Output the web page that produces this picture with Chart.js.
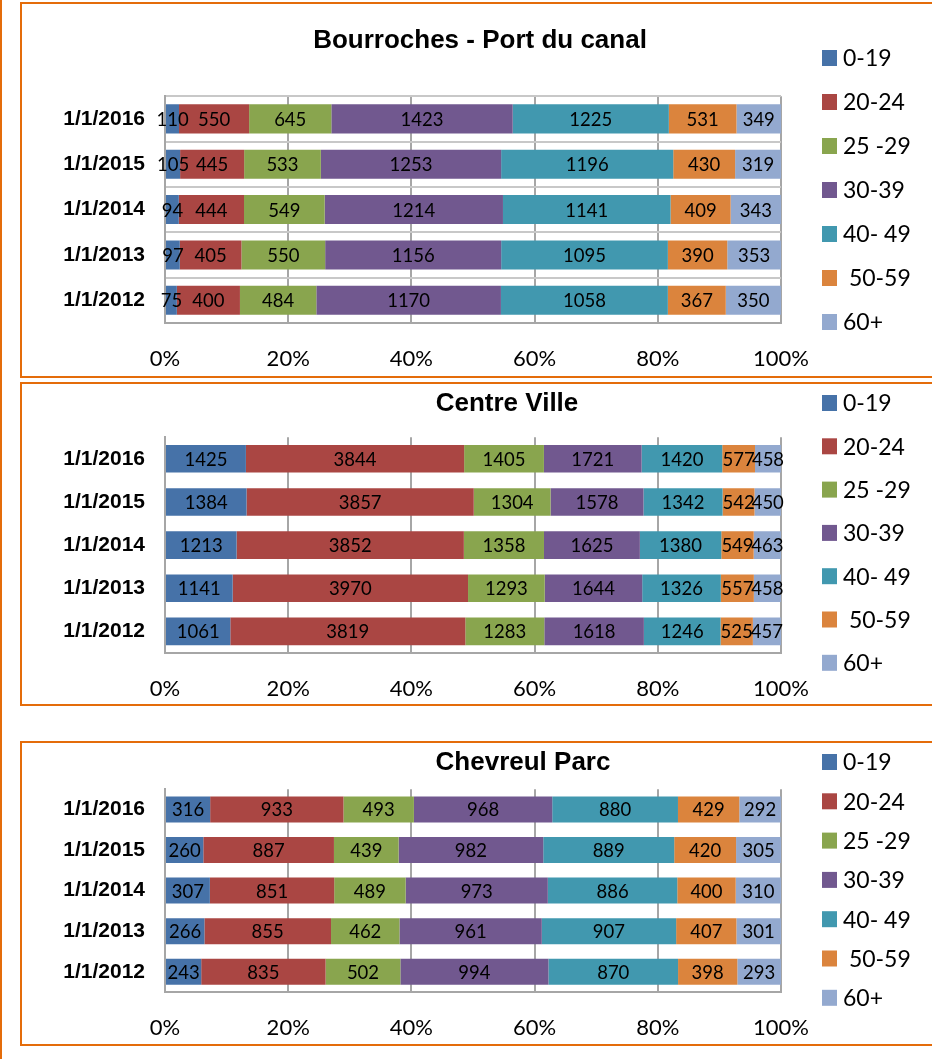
<!DOCTYPE html>
<html>
<head>
<meta charset="utf-8">
<script src="https://cdn.jsdelivr.net/npm/chart.js@4.4.1/dist/chart.umd.min.js"></script>
<style>
  html, body { margin: 0; padding: 0; background: #fff; overflow: hidden; }
  body { width: 932px; height: 1059px; position: relative; }
  .edge { position: absolute; left: 0; top: 0; width: 2px; height: 1059px; background: #E46C0A; }
  .box { position: absolute; left: 20px; width: 940px; border: 2px solid #E46C0A; background: #fff; }
  .box .inner { position: relative; width: 910px; height: 100%; }
</style>
</head>
<body>
<div class="edge"></div>
<div class="box" style="top:2px;height:372px"><div class="inner"><canvas id="chart1"></canvas></div></div>
<div class="box" style="top:382px;height:320px"><div class="inner"><canvas id="chart2"></canvas></div></div>
<div class="box" style="top:741px;height:301px"><div class="inner"><canvas id="chart3"></canvas></div></div>
<script>
/* ------------------------------------------------------------------ */
/*  Data                                                              */
/* ------------------------------------------------------------------ */

var categories = ['1/1/2016', '1/1/2015', '1/1/2014', '1/1/2013', '1/1/2012'];
var ageGroups = ['0-19', '20-24', '25 -29', '30-39', '40- 49', ' 50-59', '60+'];
var groupColors = ['#4672A8', '#AA4643', '#89A54E', '#71588F', '#4198AF', '#DB843D', '#93A9CF'];
var percentTicks = [0, 20, 40, 60, 80, 100];

// one row per date (same order as categories), one column per age group
var bourrochesCounts = [
  [110, 550, 645, 1423, 1225, 531, 349],
  [105, 445, 533, 1253, 1196, 430, 319],
  [94, 444, 549, 1214, 1141, 409, 343],
  [97, 405, 550, 1156, 1095, 390, 353],
  [75, 400, 484, 1170, 1058, 367, 350],
];

var centreVilleCounts = [
  [1425, 3844, 1405, 1721, 1420, 577, 458],
  [1384, 3857, 1304, 1578, 1342, 542, 450],
  [1213, 3852, 1358, 1625, 1380, 549, 463],
  [1141, 3970, 1293, 1644, 1326, 557, 458],
  [1061, 3819, 1283, 1618, 1246, 525, 457],
];

var chevreulCounts = [
  [316, 933, 493, 968, 880, 429, 292],
  [260, 887, 439, 982, 889, 420, 305],
  [307, 851, 489, 973, 886, 400, 310],
  [266, 855, 462, 961, 907, 407, 301],
  [243, 835, 502, 994, 870, 398, 293],
];

var GRID = '#A6A6A6';

/* ------------------------------------------------------------------ */
/*  Plugins                                                           */
/* ------------------------------------------------------------------ */

/** Raw count written in the middle of every segment. */
var segmentLabels = {
  id: 'segmentLabels',
  afterDatasetsDraw: function (chart) {
    var ctx = chart.ctx;
    ctx.save();
    ctx.font = '18.5px Lato';
    ctx.fillStyle = '#000';
    ctx.textAlign = 'center';
    ctx.textBaseline = 'middle';
    chart.data.datasets.forEach(function (ds, i) {
      chart.getDatasetMeta(i).data.forEach(function (bar, j) {
        var p = bar.getProps(['x', 'base', 'y'], true);
        ctx.fillText(String(ds.counts[j]), (p.x + p.base) / 2, p.y + 1);
      });
    });
    ctx.restore();
  }
};

/** Legend column on the right, Excel style. */
var sideLegend = {
  id: 'sideLegend',
  afterDraw: function (chart, args, opts) {
    var ctx = chart.ctx;
    ctx.save();
    ctx.font = '23px Lato';
    ctx.textAlign = 'left';
    ctx.textBaseline = 'middle';
    chart.data.datasets.forEach(function (ds, i) {
      var cy = opts.top + i * opts.gap;
      ctx.fillStyle = ds.backgroundColor;
      ctx.fillRect(opts.left, cy - 8, 15, 16);
      ctx.fillStyle = '#000';
      ctx.fillText(ds.label, opts.left + 21, cy + 1);
    });
    ctx.restore();
  }
};

/** Nudge the title sideways (it is not centred on the plot in the source). */
var titleShift = {
  id: 'titleShift',
  afterLayout: function (chart, args, opts) {
    if (chart.titleBlock) {
      chart.titleBlock.left += opts.dx;
      chart.titleBlock.right += opts.dx;
    }
  }
};

/* ------------------------------------------------------------------ */
/*  Chart building                                                    */
/* ------------------------------------------------------------------ */

function buildDatasets(counts) {
  var totals = counts.map(function (row) {
    return row.reduce(function (a, b) { return a + b; }, 0);
  });
  return ageGroups.map(function (group, g) {
    return {
      label: group,
      data: counts.map(function (row, r) { return row[g] / totals[r] * 100; }),
      counts: counts.map(function (row) { return row[g]; }),
      backgroundColor: groupColors[g],
      borderWidth: 0,
      barPercentage: 0.64,
      categoryPercentage: 1,
      xAxisID: 'x',
      yAxisID: 'y',
    };
  });
}

function makeChart(canvasId, titleText, counts, cfg) {
  return new Chart(document.getElementById(canvasId), {
    type: 'bar',
    data: { labels: categories, datasets: buildDatasets(counts) },
    options: {
      indexAxis: 'y',
      responsive: true,
      maintainAspectRatio: false,
      animation: false,
      layout: { padding: { left: 0, right: 151, top: 0, bottom: 0 } },
      scales: {
        x: {
          stacked: true,
          min: 0,
          max: 100,
          afterBuildTicks: function (s) {
            s.ticks = percentTicks.map(function (v) { return { value: v }; });
          },
          afterFit: function (s) { s.height = cfg.xHeight; },
          grid: { color: GRID, lineWidth: 2, drawTicks: false },
          border: { color: GRID, width: 2 },
          ticks: {
            padding: 23,
            color: '#000',
            font: { family: 'Lato', size: 22 },
            callback: function (v) { return v + '%'; },
          },
        },
        y: {
          stacked: true,
          afterFit: function (s) { s.width = 143; },
          grid: { display: cfg.rowLines, color: '#C8C8C8', lineWidth: 2, drawTicks: false },
          border: { color: GRID, width: 2 },
          ticks: {
            padding: 20,
            color: '#000',
            font: { family: 'Liberation Sans', size: 21, weight: 'bold' },
          },
        },
      },
      plugins: {
        legend: { display: false },
        tooltip: { enabled: false },
        title: {
          display: true,
          text: titleText,
          fullSize: false,
          color: '#000',
          font: { family: 'Liberation Sans', size: 26, weight: 'bold', lineHeight: 1.2 },
          padding: { top: cfg.titleTop, bottom: cfg.titleBottom },
        },
        titleShift: { dx: cfg.titleShift },
        sideLegend: { left: 800, top: cfg.legendTop, gap: cfg.legendGap },
      },
    },
    plugins: [segmentLabels, sideLegend, titleShift],
  });
}

makeChart('chart1', 'Bourroches - Port du canal', bourrochesCounts, {
  rowLines: true, xHeight: 53, titleTop: 21, titleBottom: 40, titleShift: 7,
  legendTop: 54, legendGap: 44,
});
makeChart('chart2', 'Centre Ville', centreVilleCounts, {
  rowLines: false, xHeight: 51, titleTop: 4, titleBottom: 18, titleShift: 34,
  legendTop: 19, legendGap: 43.3,
});
makeChart('chart3', 'Chevreul Parc', chevreulCounts, {
  rowLines: false, xHeight: 52, titleTop: 4, titleBottom: 11, titleShift: 50,
  legendTop: 19, legendGap: 39.3,
});
</script>
</body>
</html>
